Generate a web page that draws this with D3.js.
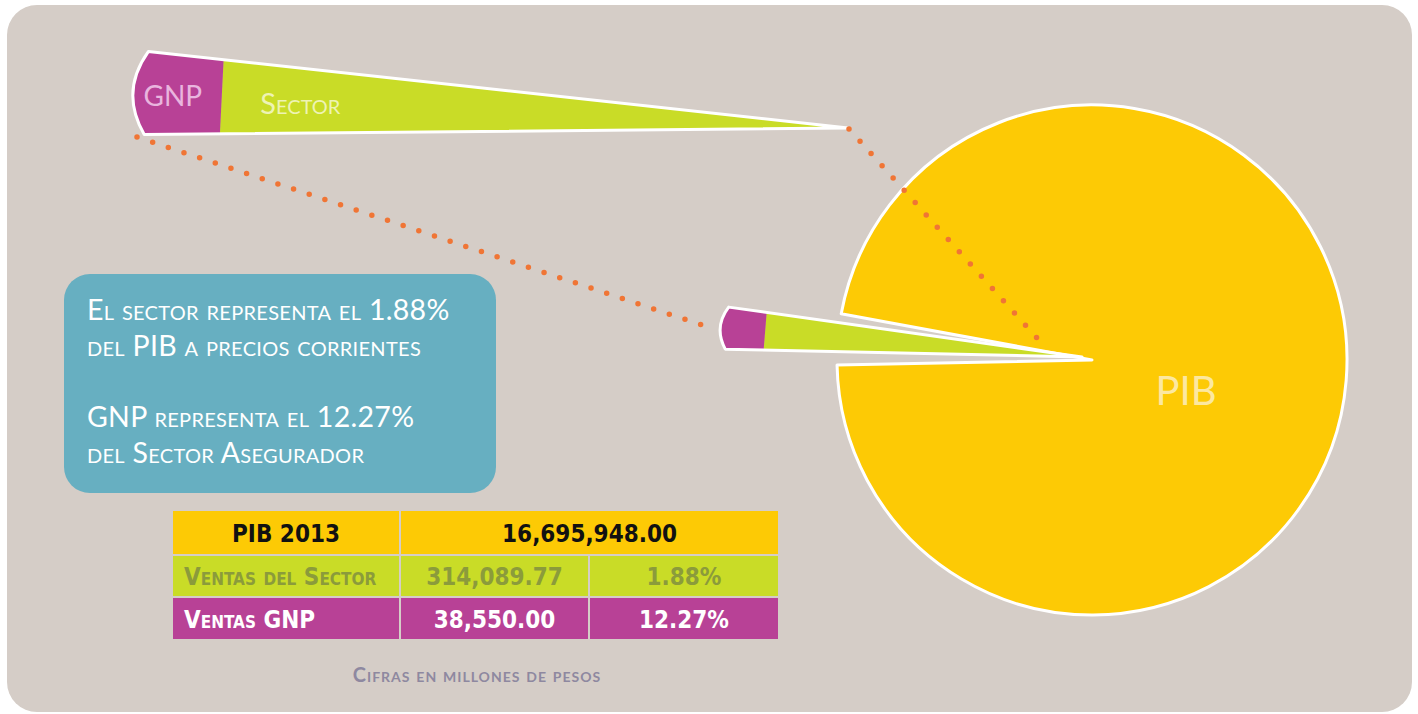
<!DOCTYPE html>
<html>
<head>
<meta charset="utf-8">
<script src="https://cdn.jsdelivr.net/npm/d3@7"></script>
<style>
  html, body { margin: 0; padding: 0; background: #ffffff; }
  svg { display: block; }
  .note { font-family: Lato, "Open Sans", sans-serif; font-variant: small-caps; fill: #ffffff; letter-spacing: 0.3px; }
  .cell { font-family: "Liberation Sans Narrow", "DejaVu Sans Condensed", sans-serif; font-weight: bold; font-variant: small-caps; }
</style>
</head>
<body>
<svg id="chart" width="1418" height="714"></svg>
<script>
// data (millones de pesos)
var sliceNames = ["PIB", "Sector", "GNP"];
var pibTotal = 16695948.00;
var sectorSales = 314089.77;
var gnpSales = 38550.00;

var noteLines = [
    "El sector representa el 1.88%",
    "del PIB a precios corrientes",
    "",
    "GNP representa el 12.27%",
    "del Sector Asegurador"
];
var tableRows = [
    ["PIB 2013", "16,695,948.00"],
    ["Ventas del Sector", "314,089.77", "1.88%"],
    ["Ventas GNP", "38,550.00", "12.27%"]
];
var footNote = "Cifras en millones de pesos";

var colors = {pib: "#fdca05", sector: "#c9dc27", gnp: "#b84196"};

var svg = d3.select("#chart");
var deg = Math.PI / 180;

// background panel
svg.append("rect")
    .attr("x", 7).attr("y", 5)
    .attr("width", 1405).attr("height", 707)
    .attr("rx", 30)
    .attr("fill", "#d5cdc7");

// share of sector in PIB -> angles
var pie = d3.pie().sort(null).value(function(d) {return d;});
var wedgeMid = 274.65 * deg;
var sectorSpan = 2 * Math.PI * sectorSales / pibTotal;
var slices = pie.startAngle(wedgeMid - sectorSpan / 2).endAngle(wedgeMid - sectorSpan / 2 + 2 * Math.PI)([sectorSales, pibTotal - sectorSales]);
var gnpShare = gnpSales / sectorSales;

// PIB slice (leaves a gap where the sector is taken out)
var pad = 2.4 * deg;
var pibArc = d3.arc().innerRadius(0).outerRadius(255);
svg.append("path")
    .attr("transform", "translate(1092,360)")
    .attr("d", pibArc({startAngle: slices[1].startAngle + pad, endAngle: slices[1].endAngle - pad}))
    .attr("fill", colors.pib)
    .attr("stroke", "#ffffff")
    .attr("stroke-width", 3)
    .attr("stroke-linejoin", "round");

svg.append("text")
    .attr("x", 1186).attr("y", 405)
    .attr("text-anchor", "middle")
    .attr("font-family", "Lato, 'Open Sans', sans-serif")
    .attr("font-size", 40)
    .attr("fill", "#fce8a0")
    .text(sliceNames[0]);

function polar(rad, ang) {
    return [rad * Math.sin(ang), -rad * Math.cos(ang)];
}

// draws the sector wedge split in sector / GNP, with a rounded outer end
function drawWedge(cx, cy, R, rot) {
    var g = svg.append("g").attr("transform", "translate(" + cx + "," + cy + ")");
    var sa = slices[0].startAngle + rot, ea = slices[0].endAngle + rot, mid = (sa + ea) / 2;
    var r = d3.scaleLinear().domain([0, 1]).range([0, R]);
    var bulge = R * 0.017;
    var A = polar(R - bulge, sa), B = polar(R - bulge, ea), M = polar(R, mid);
    var C = [2 * M[0] - (A[0] + B[0]) / 2, 2 * M[1] - (A[1] + B[1]) / 2];
    var rb = r(1 - gnpShare);
    var Pa = polar(rb, sa), Pb = polar(rb, ea);

    var green = d3.path();
    green.moveTo(0, 0); green.lineTo(Pa[0], Pa[1]); green.lineTo(Pb[0], Pb[1]); green.closePath();
    var purple = d3.path();
    purple.moveTo(Pa[0], Pa[1]); purple.lineTo(A[0], A[1]);
    purple.quadraticCurveTo(C[0], C[1], B[0], B[1]);
    purple.lineTo(Pb[0], Pb[1]); purple.closePath();
    var outline = d3.path();
    outline.moveTo(0, 0); outline.lineTo(A[0], A[1]);
    outline.quadraticCurveTo(C[0], C[1], B[0], B[1]);
    outline.closePath();

    g.append("path").attr("d", green.toString()).attr("fill", colors.sector)
        .attr("stroke", colors.sector).attr("stroke-width", 0.6);
    g.append("path").attr("d", purple.toString()).attr("fill", colors.gnp);
    g.append("path")
        .attr("d", outline.toString())
        .attr("fill", "none")
        .attr("stroke", "#ffffff")
        .attr("stroke-width", 3)
        .attr("stroke-linejoin", "round");
    return {g: g, r: r, mid: mid};
}

drawWedge(1082, 357, 363, 0);
var big = drawWedge(848, 128, 716, -1.8 * deg);

var pGnp = polar(big.r(1 - gnpShare / 2), big.mid);
big.g.append("text")
    .attr("x", pGnp[0] - 4).attr("y", pGnp[1] + 11)
    .attr("text-anchor", "middle")
    .attr("font-family", "Lato, 'Open Sans', sans-serif")
    .attr("font-size", 28)
    .attr("fill", "#e9b5de")
    .text(sliceNames[2]);
var pSec = polar(big.r(0.77), big.mid);
big.g.append("text")
    .attr("x", pSec[0] + 3).attr("y", pSec[1] + 13)
    .attr("text-anchor", "middle")
    .attr("font-family", "Lato, 'Open Sans', sans-serif")
    .attr("font-variant", "small-caps")
    .attr("font-size", 29)
    .attr("fill", "#eef3b4")
    .text(sliceNames[1]);

// dotted connectors
var connectors = [[[849, 129], [1045, 347]], [[137, 137], [711, 328]]];
svg.selectAll(".conn").data(connectors).enter().append("path")
    .attr("class", "conn")
    .attr("d", function(d) {return d3.line()(d);})
    .attr("fill", "none")
    .attr("stroke", "#f07535")
    .attr("stroke-width", 5.5)
    .attr("stroke-linecap", "round")
    .attr("stroke-dasharray", "0 16.5");

// note box
svg.append("rect")
    .attr("x", 64).attr("y", 274)
    .attr("width", 432).attr("height", 219)
    .attr("rx", 26)
    .attr("fill", "#67afc1");
svg.selectAll(".note").data(noteLines).enter().append("text")
    .attr("class", "note")
    .attr("x", 87)
    .attr("y", function(d, i) {return 320 + i * 35.8;})
    .attr("font-size", 28.5)
    .text(function(d) {return d;});

// table
var colEdges = [173, 400, 589, 778];
var rowEdges = [511, 555, 597, 639];
var rowFill = [colors.pib, colors.sector, colors.gnp];
var rowText = ["#111111", "#8b9b3b", "#ffffff"];
tableRows.forEach(function(row, i) {
    var cells = row.length == 2 ? [[0, 1], [1, 3]] : [[0, 1], [1, 2], [2, 3]];
    cells.forEach(function(c, j) {
        var x0 = colEdges[c[0]] + (c[0] > 0 ? 1 : 0), x1 = colEdges[c[1]] - (c[1] < 3 ? 1 : 0);
        var y0 = rowEdges[i] + (i > 0 ? 1 : 0), y1 = rowEdges[i + 1] - (i < 2 ? 1 : 0);
        svg.append("rect")
            .attr("x", x0).attr("y", y0)
            .attr("width", x1 - x0).attr("height", y1 - y0)
            .attr("fill", rowFill[i]);
        var left = (j == 0 && i > 0);
        svg.append("text")
            .attr("class", "cell")
            .attr("x", left ? x0 + 11 : (x0 + x1) / 2)
            .attr("y", (y0 + y1) / 2 + 9)
            .attr("text-anchor", left ? "start" : "middle")
            .attr("font-size", 24)
            .attr("fill", rowText[i])
            .text(row[j]);
    });
});

svg.append("text")
    .attr("x", 477).attr("y", 682)
    .attr("text-anchor", "middle")
    .attr("font-family", "Lato, 'Open Sans', sans-serif")
    .attr("font-weight", "bold")
    .attr("font-variant", "small-caps")
    .attr("font-size", 20)
    .attr("letter-spacing", 1)
    .attr("fill", "#8e88a0")
    .text(footNote);
</script>
</body>
</html>
